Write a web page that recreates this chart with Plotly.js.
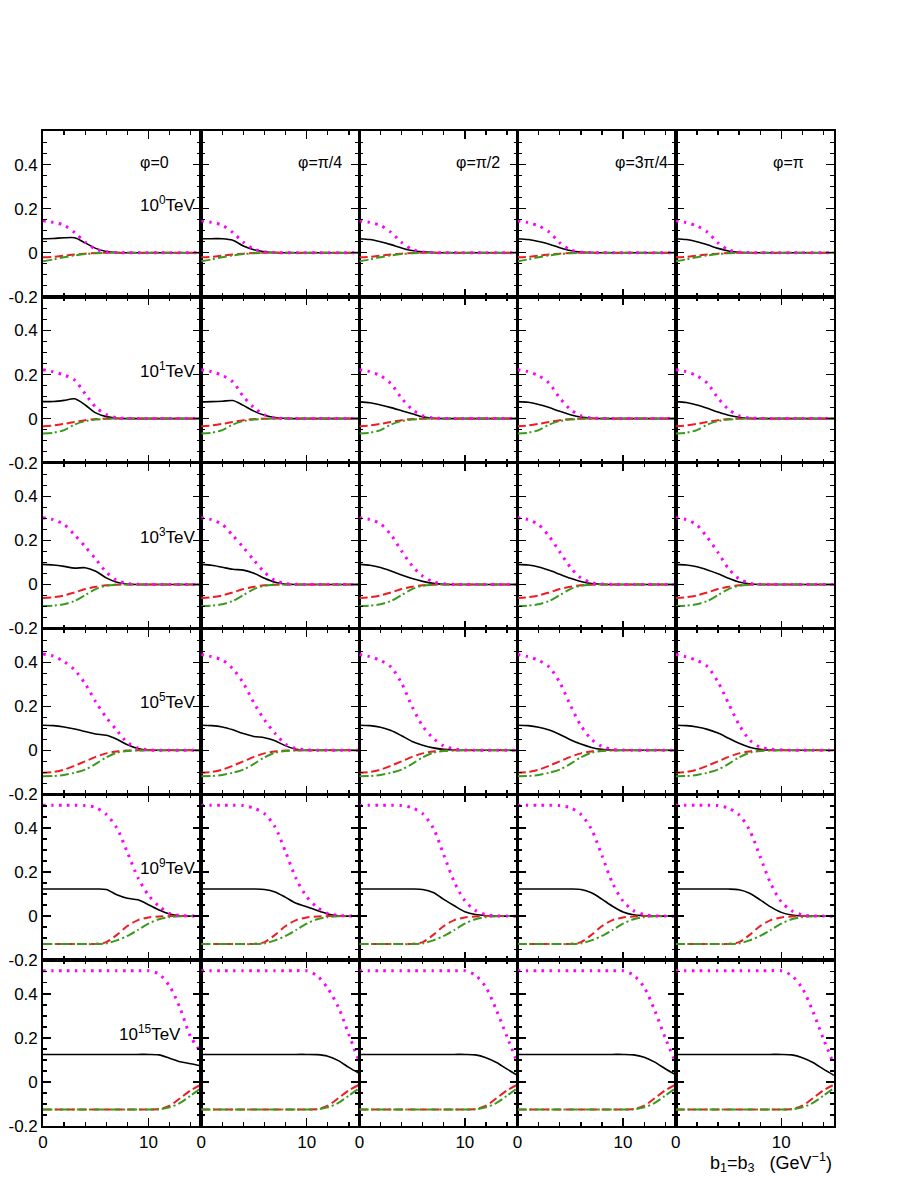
<!DOCTYPE html>
<html>
<head>
<meta charset="utf-8">
<script src="https://cdn.plot.ly/plotly-3.0.1.min.js"></script>
<style>body{margin:0;background:#fff}</style>
</head>
<body>
<div id="chart" style="width:910px;height:1177px"></div>
<script>
// b1 = b3 (GeV^-1)
const bValues = [0,1,2,3,4,5,6,7,8,9,10,11,12,13,14,15];

const energyLabels = ['10<sup>0</sup>TeV','10<sup>1</sup>TeV','10<sup>3</sup>TeV','10<sup>5</sup>TeV','10<sup>9</sup>TeV','10<sup>15</sup>TeV'];
const phiLabels = ['\u03c6=0','\u03c6=\u03c0/4','\u03c6=\u03c0/2','\u03c6=3\u03c0/4','\u03c6=\u03c0'];

const xTickVals = [0,10];
const xTickText = ['0','10'];
const yTickVals = [-0.2,0,0.2,0.4];
const yTickText = ['-0.2','0','0.2','0.4'];

// ---- 10^0 TeV ----
const mag_E0 = [
 [0.145,0.138,0.125,0.092,0.048,0.016,0.005,0.001,0,0,0,0,0,0,0,0],
 [0.145,0.138,0.125,0.092,0.048,0.016,0.005,0.001,0,0,0,0,0,0,0,0],
 [0.145,0.138,0.124,0.093,0.047,0.015,0.004,0.001,0,0,0,0,0,0,0,0],
 [0.145,0.137,0.122,0.094,0.045,0.013,0.003,0.001,0,0,0,0,0,0,0,0],
 [0.145,0.137,0.122,0.094,0.045,0.013,0.003,0.001,0,0,0,0,0,0,0,0]];
const black_E0 = [
 [0.064,0.065,0.068,0.068,0.045,0.02,0.006,0.001,0,0,0,0,0,0,0,0],
 [0.064,0.064,0.064,0.057,0.031,0.014,0.005,0.001,0,0,0,0,0,0,0,0],
 [0.064,0.06,0.05,0.037,0.022,0.01,0.004,0.001,0,0,0,0,0,0,0,0],
 [0.064,0.06,0.051,0.039,0.023,0.01,0.003,0.001,0,0,0,0,0,0,0,0],
 [0.064,0.06,0.05,0.036,0.02,0.008,0.002,0,0,0,0,0,0,0,0,0]];
const red_E0 = [-0.02,-0.018,-0.013,-0.008,-0.004,-0.001,0,0,0,0,0,0,0,0,0,0];
const green_E0 = [-0.038,-0.03,-0.02,-0.012,-0.006,-0.002,-0.0005,0,0,0,0,0,0,0,0,0];

// ---- 10^1 TeV ----
const mag_E1 = [
 [0.222,0.212,0.198,0.175,0.112,0.052,0.018,0.004,0.001,0,0,0,0,0,0,0],
 [0.222,0.213,0.196,0.167,0.1,0.05,0.017,0.004,0.001,0,0,0,0,0,0,0],
 [0.222,0.213,0.195,0.158,0.093,0.042,0.014,0.003,0.001,0,0,0,0,0,0,0],
 [0.222,0.213,0.195,0.16,0.094,0.042,0.013,0.003,0.001,0,0,0,0,0,0,0],
 [0.222,0.213,0.195,0.16,0.094,0.042,0.013,0.003,0.001,0,0,0,0,0,0,0]];
const black_E1 = [
 [0.077,0.078,0.083,0.09,0.062,0.026,0.009,0.002,0,0,0,0,0,0,0,0],
 [0.076,0.077,0.079,0.082,0.06,0.034,0.015,0.005,0.001,0,0,0,0,0,0,0],
 [0.076,0.072,0.062,0.05,0.036,0.022,0.008,0.002,0,0,0,0,0,0,0,0],
 [0.077,0.074,0.064,0.05,0.033,0.018,0.007,0.002,0,0,0,0,0,0,0,0],
 [0.077,0.073,0.062,0.047,0.03,0.015,0.006,0.001,0,0,0,0,0,0,0,0]];
const red_E1 = [-0.035,-0.031,-0.024,-0.015,-0.007,-0.002,-0.0005,0,0,0,0,0,0,0,0,0];
const green_E1 = [-0.068,-0.064,-0.052,-0.027,-0.011,-0.004,-0.001,0,0,0,0,0,0,0,0,0];

// ---- 10^3 TeV ----
const mag_E3 = [
 [0.303,0.294,0.272,0.225,0.172,0.115,0.056,0.018,0.004,0.001,0,0,0,0,0,0],
 [0.303,0.294,0.272,0.222,0.168,0.11,0.055,0.018,0.004,0.001,0,0,0,0,0,0],
 [0.303,0.295,0.275,0.225,0.152,0.085,0.038,0.012,0.003,0,0,0,0,0,0,0],
 [0.303,0.294,0.271,0.218,0.148,0.078,0.03,0.008,0.002,0,0,0,0,0,0,0],
 [0.303,0.294,0.27,0.213,0.145,0.072,0.025,0.006,0.001,0,0,0,0,0,0,0]];
const black_E3 = [
 [0.091,0.088,0.082,0.074,0.076,0.06,0.03,0.01,0.002,0,0,0,0,0,0,0],
 [0.091,0.087,0.078,0.069,0.065,0.051,0.028,0.01,0.002,0,0,0,0,0,0,0],
 [0.091,0.087,0.077,0.061,0.043,0.027,0.014,0.005,0.001,0,0,0,0,0,0,0],
 [0.091,0.088,0.079,0.064,0.046,0.028,0.013,0.004,0.001,0,0,0,0,0,0,0],
 [0.091,0.088,0.08,0.066,0.049,0.028,0.011,0.003,0,0,0,0,0,0,0,0]];
const red_E3 = [-0.061,-0.058,-0.05,-0.036,-0.021,-0.01,-0.004,-0.001,0,0,0,0,0,0,0,0];
const green_E3 = [-0.098,-0.096,-0.09,-0.075,-0.048,-0.021,-0.006,-0.001,0,0,0,0,0,0,0,0];

// ---- 10^5 TeV ----
const mag_E5 = [
 [0.437,0.427,0.403,0.365,0.302,0.22,0.149,0.091,0.035,0.01,0.002,0,0,0,0,0],
 [0.435,0.425,0.41,0.37,0.305,0.215,0.138,0.077,0.027,0.008,0.002,0,0,0,0,0],
 [0.435,0.425,0.408,0.378,0.305,0.198,0.11,0.055,0.02,0.006,0.001,0,0,0,0,0],
 [0.435,0.425,0.408,0.378,0.308,0.205,0.112,0.05,0.017,0.005,0.001,0,0,0,0,0],
 [0.435,0.424,0.408,0.38,0.31,0.213,0.116,0.047,0.014,0.005,0.002,0,0,0,0,0]];
const black_E5 = [
 [0.114,0.112,0.106,0.097,0.085,0.074,0.068,0.05,0.025,0.008,0.001,0,0,0,0,0],
 [0.114,0.112,0.106,0.093,0.076,0.063,0.057,0.043,0.02,0.005,0,0,0,0,0,0],
 [0.114,0.112,0.105,0.09,0.066,0.04,0.023,0.011,0.004,0.001,0,0,0,0,0,0],
 [0.114,0.112,0.105,0.092,0.072,0.048,0.028,0.013,0.004,0.001,0,0,0,0,0,0],
 [0.114,0.112,0.106,0.095,0.078,0.055,0.032,0.014,0.004,0.001,0,0,0,0,0,0]];
const red_E5 = [-0.102,-0.098,-0.088,-0.07,-0.05,-0.03,-0.014,-0.005,-0.001,0,0,0,0,0,0,0];
const green_E5 = [-0.118,-0.117,-0.112,-0.102,-0.088,-0.062,-0.032,-0.011,-0.003,-0.001,0,0,0,0,0,0];

// ---- 10^9 TeV ----
const mag_E9 = [
 [0.503,0.503,0.503,0.503,0.502,0.493,0.462,0.4,0.29,0.175,0.095,0.045,0.012,0.003,0.001,0],
 [0.503,0.503,0.503,0.503,0.502,0.49,0.465,0.405,0.292,0.17,0.088,0.04,0.012,0.003,0.001,0],
 [0.503,0.503,0.503,0.503,0.502,0.492,0.465,0.4,0.278,0.155,0.07,0.026,0.007,0.001,0,0],
 [0.503,0.503,0.503,0.503,0.502,0.492,0.462,0.395,0.275,0.15,0.068,0.025,0.007,0.001,0,0],
 [0.503,0.503,0.503,0.503,0.502,0.49,0.46,0.39,0.27,0.148,0.065,0.024,0.006,0.001,0,0]];
const black_E9 = [
 [0.123,0.123,0.123,0.123,0.123,0.123,0.121,0.097,0.081,0.074,0.052,0.028,0.01,0.002,0,0],
 [0.123,0.123,0.123,0.123,0.123,0.123,0.121,0.11,0.085,0.058,0.043,0.025,0.01,0.002,0,0],
 [0.123,0.123,0.123,0.123,0.123,0.123,0.121,0.107,0.076,0.047,0.02,0.007,0.002,0,0,0],
 [0.123,0.123,0.123,0.123,0.123,0.123,0.121,0.106,0.077,0.045,0.019,0.006,0.002,0,0,0],
 [0.123,0.123,0.123,0.123,0.123,0.123,0.12,0.104,0.074,0.042,0.017,0.005,0.001,0,0,0]];
const red_E9 = [-0.127,-0.127,-0.127,-0.127,-0.127,-0.126,-0.118,-0.085,-0.045,-0.018,-0.006,-0.002,0,0,0,0];
const green_E9 = [-0.127,-0.127,-0.127,-0.127,-0.127,-0.127,-0.124,-0.11,-0.09,-0.063,-0.034,-0.014,-0.005,-0.001,0,0];

// ---- 10^15 TeV ----
const mag_E15 = [
 [0.505,0.505,0.505,0.505,0.505,0.505,0.505,0.505,0.505,0.505,0.505,0.49,0.435,0.335,0.205,0.135],
 [0.505,0.505,0.505,0.505,0.505,0.505,0.505,0.505,0.505,0.505,0.505,0.482,0.425,0.34,0.215,0.09],
 [0.505,0.505,0.505,0.505,0.505,0.505,0.505,0.505,0.505,0.505,0.505,0.485,0.43,0.325,0.205,0.085],
 [0.505,0.505,0.505,0.505,0.505,0.505,0.505,0.505,0.505,0.505,0.505,0.485,0.43,0.325,0.2,0.085],
 [0.505,0.505,0.505,0.505,0.505,0.505,0.505,0.505,0.505,0.505,0.505,0.483,0.425,0.32,0.195,0.08]];
const black_E15 = [
 [0.125,0.125,0.125,0.125,0.125,0.125,0.125,0.125,0.125,0.125,0.125,0.123,0.108,0.092,0.083,0.073],
 [0.125,0.125,0.125,0.125,0.125,0.125,0.125,0.125,0.125,0.125,0.125,0.124,0.117,0.097,0.066,0.038],
 [0.125,0.125,0.125,0.125,0.125,0.125,0.125,0.125,0.125,0.125,0.125,0.123,0.11,0.088,0.058,0.03],
 [0.125,0.125,0.125,0.125,0.125,0.125,0.125,0.125,0.125,0.125,0.125,0.123,0.112,0.09,0.06,0.032],
 [0.125,0.125,0.125,0.125,0.125,0.125,0.125,0.125,0.125,0.125,0.125,0.123,0.11,0.088,0.058,0.03]];
const red_E15 = [-0.125,-0.125,-0.125,-0.125,-0.125,-0.125,-0.125,-0.125,-0.125,-0.125,-0.125,-0.123,-0.108,-0.074,-0.038,-0.012];
const green_E15 = [-0.125,-0.125,-0.125,-0.125,-0.125,-0.125,-0.125,-0.125,-0.125,-0.125,-0.125,-0.124,-0.115,-0.095,-0.062,-0.028];

const rowsData = [
  {mag: mag_E0, black: black_E0, red: red_E0, green: green_E0},
  {mag: mag_E1, black: black_E1, red: red_E1, green: green_E1},
  {mag: mag_E3, black: black_E3, red: red_E3, green: green_E3},
  {mag: mag_E5, black: black_E5, red: red_E5, green: green_E5},
  {mag: mag_E9, black: black_E9, red: red_E9, green: green_E9},
  {mag: mag_E15, black: black_E15, red: red_E15, green: green_E15}
];

const FONT = 'Liberation Sans, Arial, Helvetica, sans-serif';
const NROWS = 6, NCOLS = 5;
const traces = [];
const layout = {
  width: 910, height: 1177,
  margin: {l: 43, r: 76, t: 131, b: 51},
  paper_bgcolor: '#ffffff', plot_bgcolor: '#ffffff',
  showlegend: false,
  font: {family: FONT, size: 16, color: '#000'},
  annotations: []
};

for (let r = 0; r < NROWS; r++) {
  for (let c = 0; c < NCOLS; c++) {
    const n = r * NCOLS + c + 1;
    const xa = n === 1 ? 'x' : 'x' + n;
    const ya = n === 1 ? 'y' : 'y' + n;
    const d = rowsData[r];
    const common = {x: bValues, xaxis: xa, yaxis: ya, mode: 'lines', hoverinfo: 'skip'};
    traces.push(Object.assign({}, common, {y: d.black[c], line: {color: '#000000', width: 1.6, shape: 'spline', smoothing: 0.8}}));
    traces.push(Object.assign({}, common, {y: d.red, line: {color: '#ee1c24', width: 2, dash: '8px,4px', shape: 'spline', smoothing: 0.8}}));
    traces.push(Object.assign({}, common, {y: d.green, line: {color: '#3a9a1e', width: 2, dash: '9px,3px,2px,3px', shape: 'spline', smoothing: 0.8}}));
    traces.push(Object.assign({}, common, {y: d.mag[c], line: {color: '#ff00ff', width: 3, dash: '2.5px,5.5px', shape: 'spline', smoothing: 0.8}}));

    const xKey = n === 1 ? 'xaxis' : 'xaxis' + n;
    const yKey = n === 1 ? 'yaxis' : 'yaxis' + n;
    layout[xKey] = {
      domain: [c / NCOLS, (c + 1) / NCOLS],
      anchor: ya,
      range: [0, 15],
      tickmode: 'array', tickvals: xTickVals, ticktext: xTickText,
      ticks: 'inside', ticklen: 8, tickwidth: 1.3, tickcolor: '#000',
      minor: {tickmode: 'linear', tick0: 0, dtick: 2, ticks: 'inside', ticklen: 4, tickwidth: 1.3, tickcolor: '#000'},
      showticklabels: r === NROWS - 1,
      tickfont: {family: FONT, size: 17, color: '#000'},
      showline: true, linecolor: '#000', linewidth: 1.8, mirror: 'allticks',
      showgrid: false, zeroline: false, fixedrange: true
    };
    layout[yKey] = {
      domain: [1 - (r + 1) / NROWS, 1 - r / NROWS],
      anchor: xa,
      range: [-0.2, 0.553],
      tickmode: 'array', tickvals: yTickVals, ticktext: yTickText,
      ticks: 'inside', ticklen: 8, tickwidth: 1.3, tickcolor: '#000',
      minor: {tickmode: 'linear', tick0: 0, dtick: 0.05, ticks: 'inside', ticklen: 4, tickwidth: 1.3, tickcolor: '#000'},
      showticklabels: c === 0,
      tickfont: {family: FONT, size: 17, color: '#000'},
      showline: true, linecolor: '#000', linewidth: 1.8, mirror: 'allticks',
      showgrid: false, zeroline: false, fixedrange: true
    };

    if (r === 0) {
      layout.annotations.push({
        xref: xa, yref: ya, x: 9, y: 0.411, xanchor: 'left', yanchor: 'middle',
        text: phiLabels[c], showarrow: false, font: {family: FONT, size: 16, color: '#000'}
      });
    }
    if (c === 0) {
      layout.annotations.push({
        xref: xa, yref: ya, x: r === NROWS - 1 ? 7.0 : 9.0, y: 0.222, xanchor: 'left', yanchor: 'middle',
        text: energyLabels[r], showarrow: false, font: {family: FONT, size: 17, color: '#000'}
      });
    }
  }
}

layout.annotations.push({
  xref: 'paper', yref: 'paper', x: 1.0, y: -0.037, xanchor: 'right', yanchor: 'middle',
  text: 'b<sub>1</sub>=b<sub>3</sub>\u00a0\u00a0\u00a0(GeV<sup>\u22121</sup>)', showarrow: false,
  font: {family: FONT, size: 18, color: '#000'}
});

Plotly.newPlot('chart', traces, layout, {staticPlot: true, displayModeBar: false});
</script>
</body>
</html>
